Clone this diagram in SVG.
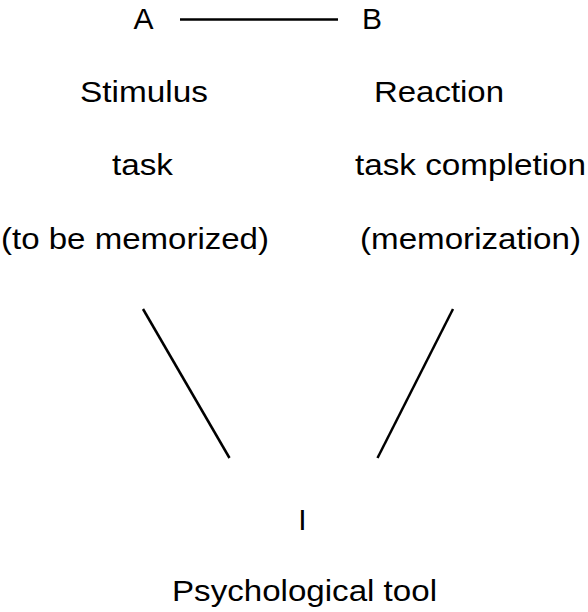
<svg xmlns="http://www.w3.org/2000/svg" width="588" height="612" viewBox="0 0 588 612">
<style>
text { font-family: "Liberation Sans", Arial, sans-serif; font-size: 30px; fill: #000; text-anchor: middle; }
.ln { stroke: #000; stroke-width: 2.5; fill: none; }
</style>
<rect width="588" height="612" fill="#fff"/>
<g id="nodeA"><text x="143.5" y="28.5">A</text></g>
<g id="nodeB"><text x="372" y="28.5">B</text></g>
<g id="stimulus">
<text x="144" y="102" textLength="128" lengthAdjust="spacingAndGlyphs">Stimulus</text>
<text x="142.5" y="175" textLength="61" lengthAdjust="spacingAndGlyphs">task</text>
<text x="135" y="249" textLength="268" lengthAdjust="spacingAndGlyphs">(to be memorized)</text>
</g>
<g id="reaction">
<text x="439" y="102" textLength="130" lengthAdjust="spacingAndGlyphs">Reaction</text>
<text x="470.5" y="175" textLength="231" lengthAdjust="spacingAndGlyphs">task completion</text>
<text x="470.5" y="249" textLength="221" lengthAdjust="spacingAndGlyphs">(memorization)</text>
</g>
<g id="nodeI"><text x="302.5" y="530">I</text></g>
<g id="tool"><text x="304.5" y="601" textLength="265" lengthAdjust="spacingAndGlyphs">Psychological tool</text></g>
<g id="connectors">
<line class="ln" x1="180" y1="19.5" x2="338" y2="19.5" stroke-width="2"/>
<line class="ln" x1="143" y1="309" x2="229.5" y2="458"/>
<line class="ln" x1="453" y1="309" x2="377.5" y2="458"/>
</g>
</svg>
